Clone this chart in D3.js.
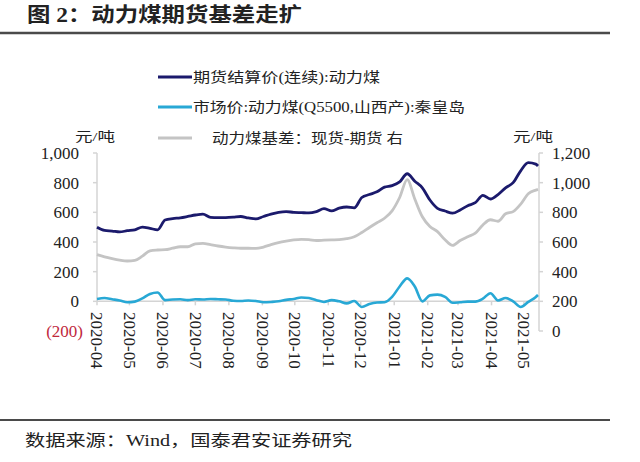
<!DOCTYPE html>
<html><head><meta charset="utf-8">
<script src="https://cdn.jsdelivr.net/npm/d3@7"></script>
<style>body{margin:0;background:#fff;overflow:hidden} svg{display:block}
.num{font-family:"Liberation Serif","Times New Roman","DejaVu Serif",serif}
.cjk{font-family:"Liberation Serif","Times New Roman","Noto Sans CJK SC",serif}
</style>
</head><body>
<script>
// ---- data ----
const dates = ["2020-04-01","2020-04-08","2020-04-15","2020-04-22","2020-04-29","2020-05-06","2020-05-13","2020-05-20","2020-05-27","2020-06-03",
"2020-06-10","2020-06-17","2020-06-24","2020-07-01","2020-07-08","2020-07-15","2020-07-22","2020-07-29","2020-08-05","2020-08-12",
"2020-08-19","2020-08-26","2020-09-02","2020-09-09","2020-09-16","2020-09-23","2020-09-30","2020-10-07","2020-10-14","2020-10-21",
"2020-10-28","2020-11-04","2020-11-11","2020-11-18","2020-11-25","2020-12-02","2020-12-09","2020-12-16","2020-12-23","2020-12-30",
"2021-01-06","2021-01-13","2021-01-20","2021-01-27","2021-02-03","2021-02-10","2021-02-17","2021-02-24","2021-03-03","2021-03-10",
"2021-03-17","2021-03-24","2021-03-31","2021-04-07","2021-04-14","2021-04-21","2021-04-28","2021-05-05","2021-05-12","2021-05-14"];
// 期货结算价(连续):动力煤  (left axis)
const futures = [500,478,474,468,476,482,500,492,482,548,
558,563,572,582,588,566,564,565,568,572,
562,556,572,588,600,605,600,598,596,605,
625,610,628,636,630,700,720,738,770,780,
805,860,810,765,683,627,609,594,616,645,
665,715,690,720,765,800,880,935,925,913];
// 市场价:动力煤(Q5500,山西产):秦皇岛  (left axis)
const spot = [16,22,14,6,-6,-2,20,50,60,8,
12,14,8,14,12,16,14,12,4,2,
6,2,-6,-4,0,10,16,26,22,8,
-4,8,0,-14,2,-38,-18,-8,-6,30,
100,155,100,0,40,45,30,-10,-6,-2,
-2,18,55,6,22,0,-38,-4,30,43];
// 动力煤基差：现货-期货 (right axis)
const basis = [515,500,488,478,472,476,505,540,546,548,
558,568,568,588,591,582,573,566,561,558,
558,557,566,582,596,606,614,618,616,610,
612,614,616,622,635,664,698,730,760,810,
900,1020,890,770,705,670,615,577,610,636,
660,715,750,740,790,805,855,925,950,955];
const leftTicks = [0,200,400,600,800,1000];
const rightTicks = [0,200,400,600,800,1000,1200];
const monthTicks = ["2020-04","2020-05","2020-06","2020-07","2020-08","2020-09","2020-10","2020-11","2020-12","2021-01","2021-02","2021-03","2021-04","2021-05"];
const seriesNames = ["期货结算价(连续):动力煤","市场价:动力煤(Q5500,山西产):秦皇岛","动力煤基差：现货-期货 右"];
const colors = ["#1b1a6c","#28a8d5","#c4c4c4"];

// ---- chart ----
const W = 640, H = 462;
const svg = d3.select("body").append("svg").attr("width", W).attr("height", H);
const parse = d3.timeParse("%Y-%m-%d");
const pm = d3.timeParse("%Y-%m");

const x = d3.scaleTime().domain([parse("2020-04-01"), parse("2021-05-14")]).range([97, 538]);
const yL = d3.scaleLinear().domain([-200, 1000]).range([331, 153]);
const yR = d3.scaleLinear().domain([0, 1200]).range([331, 153]);

// title
svg.append("text").attr("class", "cjk").attr("x", 27).attr("y", 22).style("font-weight", "bold")
  .style("font-size", "20px").attr("fill", "#222").attr("textLength", 275).attr("lengthAdjust", "spacingAndGlyphs")
  .text("图 2：动力煤期货基差走扩");
svg.append("line").attr("x1", 0).attr("x2", 610).attr("y1", 33).attr("y2", 33).attr("stroke", "#4a4a4a").attr("stroke-width", 2.5);

// legend
const legY = [77, 107, 138];
const legX = [193, 193, 212];
const legLen = [187, 272, 191];
seriesNames.forEach((n, i) => {
  svg.append("line").attr("x1", 158).attr("x2", 192).attr("y1", legY[i]).attr("y2", legY[i])
    .attr("stroke", colors[i]).attr("stroke-width", 3);
  svg.append("text").attr("class", "cjk").attr("x", legX[i]).attr("y", legY[i] + 5).style("font-size", "14px")
    .attr("fill", "#222").attr("textLength", legLen[i]).attr("lengthAdjust", "spacingAndGlyphs").text(n);
});

// unit labels
[[75, "元/吨"], [513, "元/吨"]].forEach(([ux, t]) => {
  svg.append("text").attr("class", "cjk").attr("x", ux).attr("y", 141).style("font-size", "13px")
    .attr("fill", "#222").attr("textLength", 40).attr("lengthAdjust", "spacingAndGlyphs").text(t);
});

const axisCol = "#d4d4d4";
// left axis
svg.append("line").attr("x1", 97).attr("x2", 97).attr("y1", yL(1000)).attr("y2", yL(0)).attr("stroke", axisCol).attr("stroke-width", 1.5);
leftTicks.forEach(t => {
  svg.append("line").attr("x1", 93).attr("x2", 97).attr("y1", yL(t)).attr("y2", yL(t)).attr("stroke", axisCol).attr("stroke-width", 1.5);
  svg.append("text").attr("class", "num").attr("x", 79).attr("y", yL(t)).attr("dy", "0.35em").attr("text-anchor", "end")
    .style("font-size", "17px").attr("fill", "#222").text(d3.format(",")(t));
});
svg.append("text").attr("class", "num").attr("x", 83).attr("y", yL(-200)).attr("dy", "0.35em").attr("text-anchor", "end")
  .style("font-size", "17px").attr("fill", "#c0283c").text("(" + d3.format(",")(200) + ")");

// right axis
svg.append("line").attr("x1", 539).attr("x2", 539).attr("y1", yR(1200)).attr("y2", yR(0)).attr("stroke", axisCol).attr("stroke-width", 1.5);
rightTicks.forEach(t => {
  svg.append("line").attr("x1", 539).attr("x2", 543).attr("y1", yR(t)).attr("y2", yR(t)).attr("stroke", axisCol).attr("stroke-width", 1.5);
  svg.append("text").attr("class", "num").attr("x", 552).attr("y", yR(t)).attr("dy", "0.35em").attr("text-anchor", "start")
    .style("font-size", "17px").attr("fill", "#222").text(d3.format(",")(t));
});

// x axis at left 0
svg.append("line").attr("x1", 97).attr("x2", 539).attr("y1", yL(0)).attr("y2", yL(0)).attr("stroke", axisCol).attr("stroke-width", 1.5);
monthTicks.forEach(m => {
  const xx = x(pm(m));
  svg.append("line").attr("x1", xx).attr("x2", xx).attr("y1", yL(0)).attr("y2", yL(0) + 4).attr("stroke", axisCol).attr("stroke-width", 1.5);
  svg.append("text").attr("class", "num").attr("transform", `translate(${xx},312) rotate(90)`).attr("dy", "0.33em")
    .attr("text-anchor", "start").style("font-size", "17px").attr("fill", "#222").text(m);
});

// lines
const D = dates.map(parse);
const mk = (vals, y) => d3.line().curve(d3.curveMonotoneX).x((d, i) => x(D[i])).y(d => y(d))(vals);
svg.append("path").attr("d", mk(basis, yR)).attr("fill", "none").attr("stroke", colors[2]).attr("stroke-width", 2.8);
svg.append("path").attr("d", mk(spot, yL)).attr("fill", "none").attr("stroke", colors[1]).attr("stroke-width", 2.6);
svg.append("path").attr("d", mk(futures, yL)).attr("fill", "none").attr("stroke", colors[0]).attr("stroke-width", 2.8);

// footer
svg.append("line").attr("x1", 0).attr("x2", 610).attr("y1", 420).attr("y2", 420).attr("stroke", "#4a4a4a").attr("stroke-width", 2.2);
svg.append("text").attr("class", "cjk").attr("x", 25).attr("y", 446).style("font-size", "16px")
  .attr("fill", "#222").attr("textLength", 327).attr("lengthAdjust", "spacingAndGlyphs").text("数据来源：Wind，国泰君安证券研究");
</script>
</body></html>
